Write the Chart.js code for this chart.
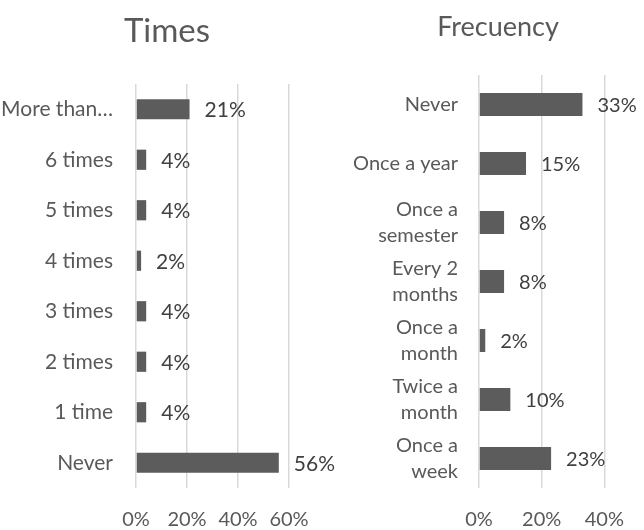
<!DOCTYPE html>
<html>
<head>
<meta charset="utf-8">
<script src="https://cdn.jsdelivr.net/npm/chart.js@4"></script>
<style>
  body { margin: 0; background: #fff; }
  #wrap { position: relative; width: 644px; height: 530px; }
  #wrap div { position: absolute; top: 0; }
</style>
</head>
<body>
<div id="wrap">
  <div style="left:0;width:340px;height:530px"><canvas id="timesChart"></canvas></div>
  <div style="left:322px;width:322px;height:530px"><canvas id="freqChart"></canvas></div>
</div>
<script>
// TIMES (left chart)
const timesLabels = ["More than\u2026", "6 times", "5 times", "4 times", "3 times", "2 times", "1 time", "Never"];
const timesValues = [21, 4, 4, 2, 4, 4, 4, 56];
const timesTicks = [0, 20, 40, 60];

// FRECUENCY (right chart)
const freqLabels = [
    "Never",
    "Once a year",
    ["Once a", "semester"],
    ["Every 2", "months"],
    ["Once a", "month"],
    ["Twice a", "month"],
    ["Once a", "week"],
];
const freqValues = [33, 15, 8, 8, 2, 10, 23];
const freqTicks = [0, 20, 40];

Chart.defaults.font.family = "Lato";
Chart.defaults.color = "#595959";

// draws the "xx%" next to each bar, and the chart title
const textBits = {
    id: "textBits",
    afterDatasetsDraw(chart, args, opts) {
        const ctx = chart.ctx;
        const meta = chart.getDatasetMeta(0);
        const data = chart.data.datasets[0].data;
        ctx.save();
        ctx.font = opts.size + "px Lato";
        ctx.fillStyle = "#404040";
        ctx.textAlign = "left";
        ctx.textBaseline = "middle";
        meta.data.forEach((bar, i) => {
            ctx.fillText(data[i] + "%", bar.x + opts.gap, bar.y + 1);
        });
        // title
        ctx.font = opts.titleSize + "px Lato";
        ctx.fillStyle = "#595959";
        ctx.textAlign = "center";
        ctx.fillText(opts.title, opts.titleX, opts.titleY);
        ctx.restore();
    },
};

function makeConfig(labels, values, ticks, o) {
    return {
        type: "bar",
        data: {
            labels: labels,
            datasets: [
                {
                    data: values,
                    backgroundColor: "#5c5c5c",
                    barPercentage: o.barPct,
                    categoryPercentage: 1,
                },
            ],
        },
        options: {
            indexAxis: "y",
            responsive: true,
            maintainAspectRatio: false,
            animation: false,
            layout: { padding: { left: 0, right: o.padR, top: o.plotTop, bottom: 0 } },
            plugins: {
                legend: { display: false },
                tooltip: { enabled: false },
                title: { display: false },
                textBits: {
                    size: o.fontSize, gap: 15,
                    title: o.title, titleSize: o.titleSize, titleX: o.titleX, titleY: o.titleY,
                },
            },
            scales: {
                x: {
                    min: 0,
                    max: ticks[ticks.length - 1],
                    afterBuildTicks: (s) => { s.ticks = ticks.map((v) => ({ value: v })); },
                    ticks: {
                        callback: (v) => v + "%",
                        padding: 20,
                        font: { size: o.tickSize },
                        maxRotation: 0,
                    },
                    grid: { color: "#d9d9d9", lineWidth: 1.5, drawTicks: false },
                    border: { display: false },
                    afterFit: (s) => { s.height = 530 - o.plotBottom; },
                },
                y: {
                    ticks: {
                        padding: o.labelGap,
                        font: { size: o.fontSize, lineHeight: 1.3 },
                        autoSkip: false,
                    },
                    grid: { display: false, drawTicks: false },
                    border: { display: false },
                    afterFit: (s) => { s.width = o.plotLeft; },
                },
            },
        },
        plugins: [textBits],
    };
}

const myChart1 = new Chart(
    document.getElementById("timesChart"),
    makeConfig(timesLabels, timesValues, timesTicks, {
        title: "Times", titleSize: 33, titleX: 167, titleY: 31,
        fontSize: 21, tickSize: 20, padR: 51, plotLeft: 136, plotTop: 84, plotBottom: 488,
        labelGap: 23, barPct: 0.4,
    })
);

const myChart2 = new Chart(
    document.getElementById("freqChart"),
    makeConfig(freqLabels, freqValues, freqTicks, {
        title: "Frecuency", titleSize: 27, titleX: 176, titleY: 27,
        fontSize: 20, tickSize: 20, padR: 38, plotLeft: 157, plotTop: 75, plotBottom: 488,
        labelGap: 21, barPct: 0.39,
    })
);
</script>
</body>
</html>
